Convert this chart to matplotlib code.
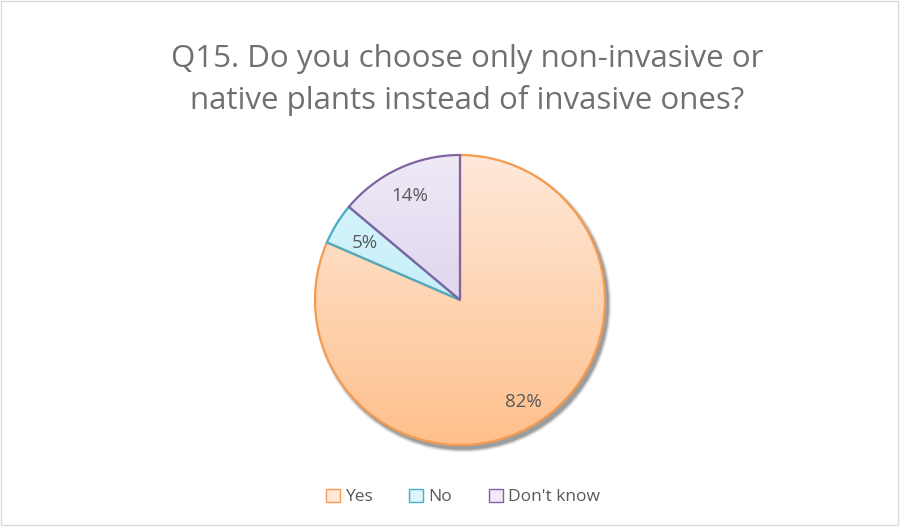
import numpy as np
import matplotlib.pyplot as plt
from matplotlib.colors import LinearSegmentedColormap
from matplotlib.patches import Patch, Rectangle, Circle

# data
categories = ["Yes", "No", "Don't know"]
shares = [81.5, 4.6, 13.9]
pct_labels = ["82%", "5%", "14%"]

title = "Q15. Do you choose only non-invasive or\nnative plants instead of invasive ones?"

# (top colour, bottom colour, edge colour) for each slice
fills = [("#FEE9DA", "#FEC08C", "#F59A4E"),
         ("#DDF6FC", "#AEE9F8", "#4BACC6"),
         ("#EFEAF6", "#D0C0E6", "#8064A2")]

plt.rcParams['font.family'] = ['Open Sans', 'DejaVu Sans']

fig = plt.figure(figsize=(9, 5.27), dpi=100)
ax = fig.add_axes([0, 0, 1, 1])

cx, cy, r = 460, 300, 145

# chart border
ax.add_patch(Rectangle((1, 1), 897, 524, fill=False, ec="#D9D9D9", lw=1))

# soft shadow behind the pie
for k, a in zip(range(6, 0, -1), [0.04, 0.05, 0.06, 0.08, 0.10, 0.12]):
    ax.add_patch(Circle((cx + 3, cy + 4), r + k * 0.6, fc="#000000", ec="none", alpha=a, zorder=1))
ax.add_patch(Circle((cx, cy), r, fc="white", ec="none", zorder=1.5))

# y axis is inverted below, so startangle=-90 is the top and counterclock runs clockwise on screen
wedges, _ = ax.pie(shares, center=(cx, cy), radius=r, startangle=-90, counterclock=True,
                   wedgeprops=dict(linewidth=1.6), frame=True)

grad = np.linspace(0, 1, 256).reshape(-1, 1)
for w, (top, bot, edge) in zip(wedges, fills):
    w.set_facecolor("none")
    w.set_edgecolor(edge)
    w.set_zorder(3)
    cmap = LinearSegmentedColormap.from_list("g", [top, bot])
    im = ax.imshow(grad, cmap=cmap, extent=(cx - r, cx + r, cy + r, cy - r),
                   aspect='auto', zorder=2, interpolation='bilinear')
    im.set_clip_path(w)

ax.set_xlim(0, 900)
ax.set_ylim(527, 0)
ax.set_aspect('equal')
ax.axis('off')

# percentage labels
label_pos = [(523, 402), (365, 243), (410, 196)]
for (x, y), s in zip(label_pos, pct_labels):
    ax.text(x, y, s, ha='center', va='center', fontsize=13.5, color="#595959", zorder=4)

ax.text(467, 80, title, ha='center', va='center', fontsize=22.5, color="#707070",
        linespacing=1.42)

handles = [Patch(facecolor=f[0], edgecolor=f[2], label=c) for c, f in zip(categories, fills)]
leg = ax.legend(handles=handles, loc='center', bbox_to_anchor=(463 / 900, 1 - 497 / 527),
                ncol=3, frameon=False, fontsize=12.5, handlelength=0.8, handleheight=0.8,
                handletextpad=0.3, columnspacing=2.1, labelcolor="#595959")

fig.savefig("out.png", dpi=100)
